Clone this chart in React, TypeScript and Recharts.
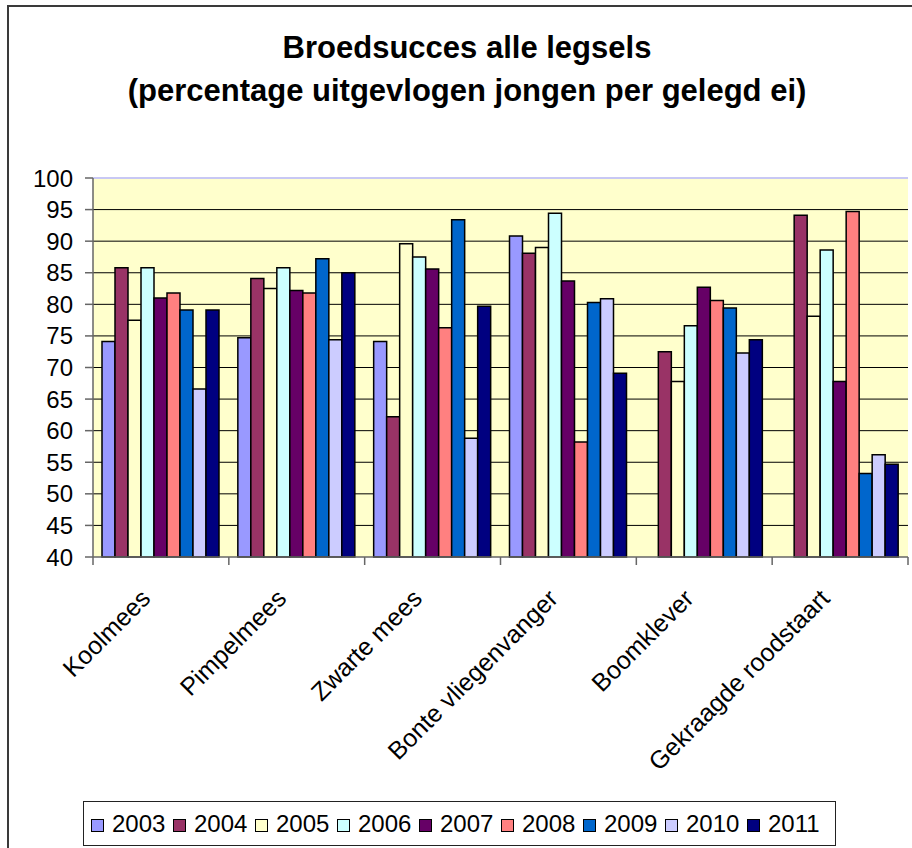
import { BarChart, Bar, XAxis, YAxis, CartesianGrid, ReferenceLine } from "recharts";

const species = [
  "Koolmees",
  "Pimpelmees",
  "Zwarte mees",
  "Bonte vliegenvanger",
  "Boomklever",
  "Gekraagde roodstaart",
];
const years = ["2003", "2004", "2005", "2006", "2007", "2008", "2009", "2010", "2011"];
const colors = ["#9999FF", "#993366", "#FFFFCC", "#CCFFFF", "#660066", "#FF8080", "#0066CC", "#CCCCFF", "#000080"];

const v2003 = [74.1, 74.7, 74.1, 90.8, null, null];
const v2004 = [85.8, 84.1, 62.2, 88.1, 72.5, 94.1];
const v2005 = [77.5, 82.5, 89.6, 89.0, 67.8, 78.1];
const v2006 = [85.8, 85.8, 87.5, 94.4, 76.6, 88.6];
const v2007 = [81.0, 82.2, 85.6, 83.7, 82.7, 67.8];
const v2008 = [81.8, 81.8, 76.3, 58.2, 80.6, 94.7];
const v2009 = [79.1, 87.2, 93.4, 80.3, 79.4, 53.2];
const v2010 = [66.6, 74.4, 58.8, 80.9, 72.3, 56.2];
const v2011 = [79.1, 85.0, 79.7, 69.1, 74.4, 54.7];

const yTicks = [40, 45, 50, 55, 60, 65, 70, 75, 80, 85, 90, 95, 100];
const gridValues = [45, 50, 55, 60, 65, 70, 75, 80, 85, 90, 95];

const series = [v2003, v2004, v2005, v2006, v2007, v2008, v2009, v2010, v2011];
const data = species.map((name, i) => {
  const row: Record<string, string | number | null> = { name };
  years.forEach((y, k) => {
    row[y] = series[k][i];
  });
  return row;
});

const FONT = '"Liberation Sans", Arial, sans-serif';
const AXIS = "#666";
const FRAME = "#C8C8F4";

function CategoryTick(props: any) {
  const { x, y, payload, index } = props;
  const half = payload?.offset ?? 68;
  return (
    <g>
      {index === 0 && (
        <line x1={x - half} x2={x - half} y1={y} y2={y + 8} stroke={AXIS} strokeWidth={1.5} />
      )}
      <line x1={x + half} x2={x + half} y1={y} y2={y + 8} stroke={AXIS} strokeWidth={1.5} />
      <text
        x={x - 9}
        y={y + 43}
        transform={`rotate(-45, ${x - 9}, ${y + 43})`}
        textAnchor="end"
        fontSize={25}
        fontFamily={FONT}
        fill="#000"
      >
        {payload.value}
      </text>
    </g>
  );
}

export default function App() {
  return (
    <div
      style={{
        position: "fixed",
        left: 0,
        top: 0,
        width: 912,
        height: 848,
        overflow: "hidden",
        background: "#fff",
        fontFamily: FONT,
      }}
    >
      <div
        style={{
          position: "absolute",
          left: 7,
          top: 5,
          width: 940,
          height: 880,
          border: "2px solid #3a3a3a",
        }}
      />
      <div
        style={{
          position: "absolute",
          left: 0,
          width: 934,
          top: 26,
          textAlign: "center",
          fontWeight: "bold",
          fontSize: 31,
          lineHeight: "43px",
          color: "#000",
        }}
      >
        Broedsucces alle legsels
        <br />
        (percentage uitgevlogen jongen per gelegd ei)
      </div>

      <div style={{ position: "absolute", left: 0, top: 0 }}>
        <BarChart
          width={912}
          height={848}
          data={data}
          margin={{ top: 178, right: 4, bottom: 91, left: 0 }}
          barSize={13}
          barGap={0}
        >
          <CartesianGrid
            vertical={false}
            horizontalValues={gridValues}
            stroke="#000"
            strokeWidth={1}
            fill="#FFFFCC"
          />
          <XAxis
            dataKey="name"
            height={200}
            interval={0}
            tickLine={false}
            tickSize={0}
            tickMargin={0}
            axisLine={{ stroke: AXIS, strokeWidth: 1.5 }}
            tick={<CategoryTick />}
          />
          <YAxis
            width={93}
            domain={[40, 100]}
            ticks={yTicks}
            interval={0}
            tickSize={8}
            tickMargin={12}
            axisLine={{ stroke: AXIS, strokeWidth: 1.5 }}
            tickLine={{ stroke: AXIS, strokeWidth: 1.5 }}
            tick={{ fontSize: 24, fill: "#000", fontFamily: FONT }}
          />
          <YAxis
            yAxisId="frame"
            orientation="right"
            width={0}
            domain={[40, 100]}
            tick={false}
            tickLine={false}
            axisLine={{ stroke: FRAME, strokeWidth: 2 }}
          />
          <ReferenceLine y={100} stroke={FRAME} strokeWidth={2} />
          {years.map((y, k) => (
            <Bar
              key={y}
              dataKey={y}
              fill={colors[k]}
              stroke="#000"
              strokeWidth={1.5}
              isAnimationActive={false}
            />
          ))}
        </BarChart>
      </div>

      <div
        style={{
          position: "absolute",
          left: 83,
          top: 801,
          width: 744,
          height: 43,
          border: "1px solid #222",
          display: "flex",
          alignItems: "center",
          paddingLeft: 7,
          boxSizing: "content-box",
        }}
      >
        {years.map((y, k) => (
          <div key={y} style={{ display: "flex", alignItems: "center", width: 82, flex: "0 0 82px" }}>
            <span
              style={{
                display: "inline-block",
                width: 11,
                height: 11,
                background: colors[k],
                border: "1px solid #000",
                marginRight: 8,
                marginTop: 3,
              }}
            />
            <span style={{ fontSize: 24, color: "#000", lineHeight: "26px" }}>{y}</span>
          </div>
        ))}
      </div>
    </div>
  );
}
